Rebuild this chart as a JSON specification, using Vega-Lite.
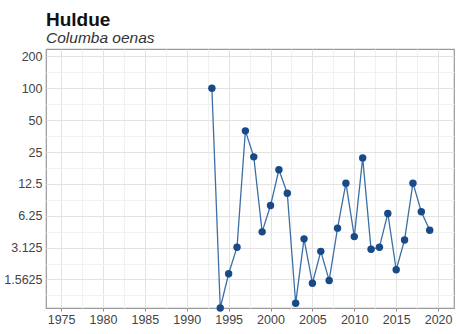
{
  "$schema": "https://vega.github.io/schema/vega-lite/v6.json",
  "width": 457,
  "height": 334,
  "autosize": {"type": "fit", "contains": "padding"},
  "padding": {"left": 3, "top": 10, "right": 3, "bottom": 8},
  "background": "white",
  "title": {
    "text": "Huldue",
    "subtitle": "Columba oenas",
    "anchor": "start",
    "frame": "group",
    "font": "Liberation Sans",
    "fontSize": 19,
    "fontWeight": "bold",
    "color": "#111111",
    "subtitleFont": "Liberation Sans",
    "subtitleFontSize": 15.5,
    "subtitleFontStyle": "italic",
    "subtitleColor": "#333333",
    "subtitlePadding": 1,
    "offset": 3
  },
  "config": {
    "view": {"stroke": "#9a9a9a", "strokeWidth": 1.2},
    "axis": {
      "labelFont": "Liberation Sans",
      "labelFontSize": 12.5,
      "labelColor": "#444444",
      "gridWidth": 1,
      "domain": false,
      "tickColor": "#888888",
      "tickSize": 3,
      "title": null
    }
  },
  "data": {
    "values": [
      {"year": 1993, "value": 100},
      {"year": 1994, "value": 0.84},
      {"year": 1995, "value": 1.77},
      {"year": 1996, "value": 3.15},
      {"year": 1997, "value": 39.6},
      {"year": 1998, "value": 22.5},
      {"year": 1999, "value": 4.4},
      {"year": 2000, "value": 7.8},
      {"year": 2001, "value": 17},
      {"year": 2002, "value": 10.2},
      {"year": 2003, "value": 0.93},
      {"year": 2004, "value": 3.78},
      {"year": 2005, "value": 1.44},
      {"year": 2006, "value": 2.88},
      {"year": 2007, "value": 1.53},
      {"year": 2008, "value": 4.77},
      {"year": 2009, "value": 12.7},
      {"year": 2010, "value": 3.97},
      {"year": 2011, "value": 22},
      {"year": 2012, "value": 3.01},
      {"year": 2013, "value": 3.15},
      {"year": 2014, "value": 6.57},
      {"year": 2015, "value": 1.93},
      {"year": 2016, "value": 3.69},
      {"year": 2017, "value": 12.7},
      {"year": 2018, "value": 6.82},
      {"year": 2019, "value": 4.56}
    ]
  },
  "encoding": {
    "x": {
      "field": "year",
      "type": "quantitative",
      "scale": {"domain": [1973.2, 2021.9], "nice": false, "zero": false},
      "axis": {
        "values": [1975, 1977.5, 1980, 1982.5, 1985, 1987.5, 1990, 1992.5, 1995, 1997.5, 2000, 2002.5, 2005, 2007.5, 2010, 2012.5, 2015, 2017.5, 2020],
        "labelExpr": "datum.value % 5 === 0 ? format(datum.value, 'd') : ''",
        "gridColor": {"condition": {"test": "datum.value % 5 === 0", "value": "#e3e3e3"}, "value": "#f1f1f1"},
        "tickOpacity": {"condition": {"test": "datum.value % 5 === 0", "value": 1}, "value": 0},
        "labelPadding": 2
      }
    },
    "y": {
      "field": "value",
      "type": "quantitative",
      "scale": {"type": "log", "base": 2, "domain": [0.84, 235], "nice": false},
      "axis": {
        "values": [1.1049, 1.5625, 2.2097, 3.125, 4.4194, 6.25, 8.8388, 12.5, 17.6777, 25, 35.3553, 50, 70.7107, 100, 141.421, 200],
        "labelExpr": "indexof([1.5625, 3.125, 6.25, 12.5, 25, 50, 100, 200], datum.value) >= 0 ? format(datum.value, '~g') : ''",
        "gridColor": {"condition": {"test": "indexof([1.5625, 3.125, 6.25, 12.5, 25, 50, 100, 200], datum.value) >= 0", "value": "#e3e3e3"}, "value": "#f1f1f1"},
        "ticks": false,
        "labelPadding": 4
      }
    }
  },
  "layer": [
    {"mark": {"type": "line", "color": "#3d6fa6", "strokeWidth": 1.3, "clip": false}},
    {"mark": {"type": "point", "filled": true, "color": "#174a87", "size": 55, "opacity": 1, "clip": false}}
  ]
}
